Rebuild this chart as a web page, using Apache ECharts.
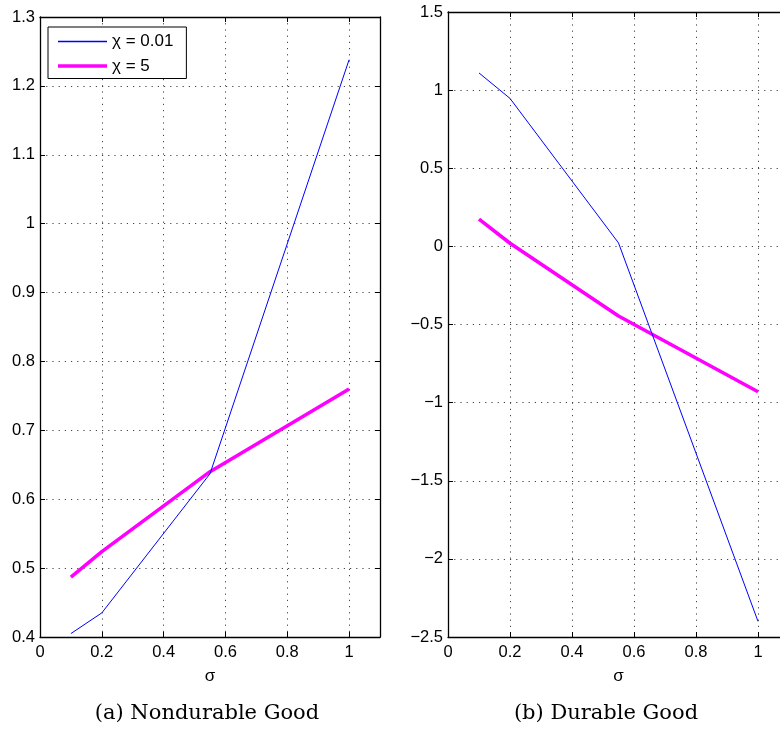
<!DOCTYPE html>
<html>
<head>
<meta charset="utf-8">
<script src="https://cdn.jsdelivr.net/npm/echarts@6/dist/echarts.min.js"></script>
<style>
  html, body { margin: 0; padding: 0; background: #fff; overflow: hidden; }
  /* the right panel's box runs past the window edge, so the canvas is a bit wider */
  #chart { width: 800px; height: 732px; }
</style>
</head>
<body>
<div id="chart"></div>
<script>
// σ values at which the model was solved
const sigma = [0.1, 0.2, 0.55, 1];

// Panel (a): nondurable good
const nondurLowChi = [0.405, 0.435, 0.637, 1.238];
const nondurHighChi = [0.487, 0.524, 0.640, 0.760];

// Panel (b): durable good
const durLowChi = [1.11, 0.947, 0.022, -2.40];
const durHighChi = [0.175, 0.020, -0.446, -0.930];

// Series names and captions
const seriesNames = ['χ = 0.01', 'χ = 5'];
const captions = ['(a) Nondurable Good', '(b) Durable Good'];

// Tick labels
const xTicks = [0, 0.2, 0.4, 0.6, 0.8, 1];
const yTicksA = [0.4, 0.5, 0.6, 0.7, 0.8, 0.9, 1, 1.1, 1.2, 1.3];
const yTicksB = [-2.5, -2, -1.5, -1, -0.5, 0, 0.5, 1, 1.5];

const pairs = (xs, ys) => xs.map((x, i) => [x, ys[i]]);
const near = (list, v) => list.some(t => Math.abs(t - v) < 1e-9);
const fmt = v => String(+v.toFixed(4)).replace('-', '\u2212');

const sans = 'Liberation Sans, Arial, sans-serif';
const labelFont = { fontFamily: sans, fontSize: 16.5, color: '#000' };
const frameLine = { show: true, onZero: false, lineStyle: { color: '#000', width: 1.3 } };
const innerTick = { show: true, inside: true, length: 5, lineStyle: { color: '#000', width: 1 } };
const dotted = { show: true, lineStyle: { color: '#444', width: 1, type: [1.2, 5] } };

function xMain(grid) {
  return {
    type: 'value', gridIndex: grid, position: 'bottom', min: 0, max: 1.1, interval: 0.2,
    name: 'σ', nameLocation: 'middle', nameGap: 31,
    nameTextStyle: { fontFamily: sans, fontSize: 17, color: '#000' },
    axisLine: frameLine, axisTick: innerTick, splitLine: dotted,
    axisLabel: Object.assign({ margin: 7, formatter: v => near(xTicks, v) ? fmt(v) : '' }, labelFont)
  };
}
function xTop(grid) {
  return {
    type: 'value', gridIndex: grid, position: 'top', min: 0, max: 1.1, interval: 0.2,
    axisLine: frameLine, axisTick: innerTick, splitLine: { show: false }, axisLabel: { show: false }
  };
}
function yMain(grid, min, max, step, ticks) {
  return {
    type: 'value', gridIndex: grid, position: 'left', min: min, max: max, interval: step,
    axisLine: frameLine, axisTick: innerTick, splitLine: dotted,
    axisLabel: Object.assign({ margin: 5, formatter: v => near(ticks, v) ? fmt(v) : '' }, labelFont)
  };
}
function yRight(grid, min, max, step) {
  return {
    type: 'value', gridIndex: grid, position: 'right', min: min, max: max, interval: step,
    axisLine: frameLine, axisTick: innerTick, splitLine: { show: false }, axisLabel: { show: false }
  };
}

const blue = { color: '#0000ff', width: 1 };
const magenta = { color: '#ff00ff', width: 3.5 };

function line(name, data, style, grid) {
  return {
    type: 'line', name: name, data: data, xAxisIndex: grid, yAxisIndex: grid,
    showSymbol: false, symbol: 'none', lineStyle: style, itemStyle: { color: style.color },
    animation: false, z: style.width > 2 ? 3 : 4
  };
}

const serifCaption = { fontFamily: 'DejaVu Serif, Liberation Serif, serif', fontWeight: 'normal', fontSize: 21, color: '#000' };

const chart = echarts.init(document.getElementById('chart'), null, { renderer: 'canvas' });
chart.setOption({
  backgroundColor: '#fff',
  animation: false,
  grid: [
    { left: 40, top: 17, width: 340, height: 620 },
    { left: 448, top: 12, width: 341, height: 625 }
  ],
  xAxis: [xMain(0), xMain(1), xTop(0), xTop(1)],
  yAxis: [
    yMain(0, 0.4, 1.3, 0.1, yTicksA),
    yMain(1, -2.5, 1.5, 0.5, yTicksB),
    yRight(0, 0.4, 1.3, 0.1),
    yRight(1, -2.5, 1.5, 0.5)
  ],
  legend: {
    orient: 'vertical', left: 48, top: 27,
    data: [
      { name: seriesNames[0], icon: 'path://M0,0H49V1.3H0Z', itemStyle: { color: blue.color } },
      { name: seriesNames[1], icon: 'path://M0,0H49V3.5H0Z', itemStyle: { color: magenta.color } }
    ],
    itemWidth: 49, itemHeight: 14, itemGap: 7.5,
    padding: [6, 13, 4, 10],
    borderColor: '#000', borderWidth: 1, backgroundColor: '#fff',
    textStyle: { fontFamily: sans, fontSize: 17, color: '#000' }
  },
  title: [
    { text: captions[0], left: 202, top: 698, textAlign: 'center', textStyle: serifCaption },
    { text: captions[1], left: 601, top: 698, textAlign: 'center', textStyle: serifCaption }
  ],
  series: [
    line(seriesNames[0], pairs(sigma, nondurLowChi), blue, 0),
    line(seriesNames[1], pairs(sigma, nondurHighChi), magenta, 0),
    line(seriesNames[0], pairs(sigma, durLowChi), blue, 1),
    line(seriesNames[1], pairs(sigma, durHighChi), magenta, 1)
  ]
});
</script>
</body>
</html>
